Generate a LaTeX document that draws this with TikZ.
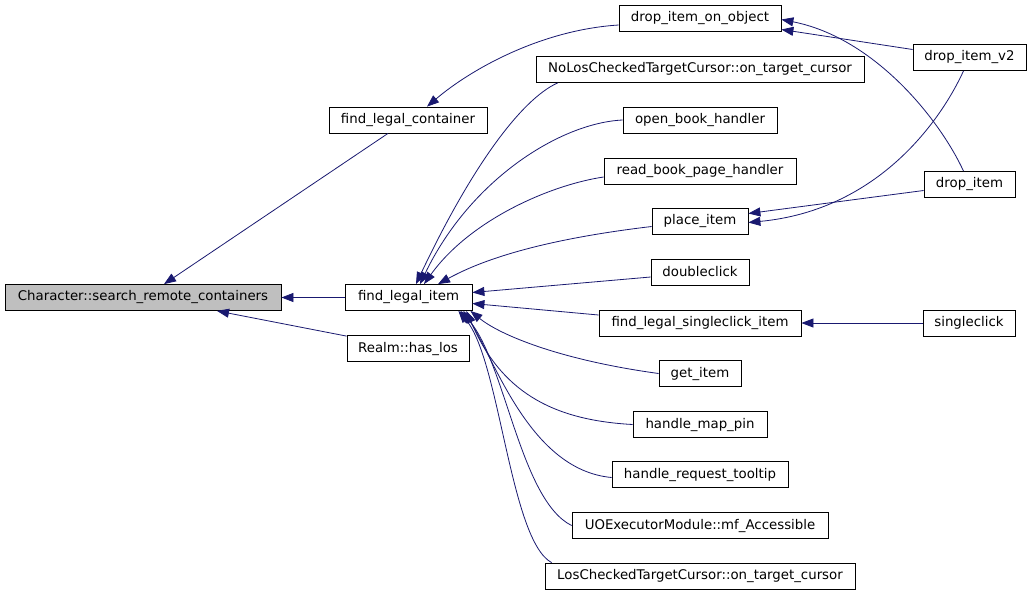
\documentclass[tikz,border=0pt]{standalone}
\usepackage{fontspec}
\setmainfont{DejaVu Sans}
\usetikzlibrary{arrows.meta,calc}
\definecolor{edgecol}{RGB}{25,25,112}
\definecolor{focusfill}{RGB}{191,191,191}
\begin{document}
\begin{tikzpicture}[x=1pt,y=-1pt,
  box/.style={draw=black, line width=0.8pt, minimum height=26pt, inner sep=0pt,
    font=\fontsize{13.33}{16}\selectfont, anchor=center},
  edge/.style={draw=edgecol, line width=0.8pt, -{Triangle[length=12pt,width=9pt]}}]
\useasboundingbox[fill=white] (0,0) rectangle (1032,595);

\node[box, minimum width=276pt, fill=focusfill] (char) at (143,297.5) {Character::search\_remote\_containers};
\node[box, minimum width=158pt] (flc) at (408,120) {find\_legal\_container};
\node[box, minimum width=127pt] (fli) at (408.5,297.5) {find\_legal\_item};
\node[box, minimum width=122pt] (realm) at (408,348.5) {Realm::has\_los};

\node[box, minimum width=162pt] (dioo) at (700,18.5) {drop\_item\_on\_object};
\node[box, minimum width=328pt] (nolos) at (700,69.5) {NoLosCheckedTargetCursor::on\_target\_cursor};
\node[box, minimum width=154pt] (obh) at (700,120) {open\_book\_handler};
\node[box, minimum width=192pt] (rbph) at (700,171) {read\_book\_page\_handler};
\node[box, minimum width=96pt] (pi) at (700,221.5) {place\_item};
\node[box, minimum width=98pt] (dc) at (700,272) {doubleclick};
\node[box, minimum width=202pt] (flsi) at (700,323) {find\_legal\_singleclick\_item};
\node[box, minimum width=82pt] (gi) at (700,373.5) {get\_item};
\node[box, minimum width=134pt] (hmp) at (700,424.5) {handle\_map\_pin};
\node[box, minimum width=176pt] (hrt) at (700,474.5) {handle\_request\_tooltip};
\node[box, minimum width=256pt] (uoe) at (700,525.5) {UOExecutorModule::mf\_Accessible};
\node[box, minimum width=310pt] (lct) at (700,576) {LosCheckedTargetCursor::on\_target\_cursor};

\node[box, minimum width=113pt] (div2) at (969.5,57.5) {drop\_item\_v2};
\node[box, minimum width=91pt] (di) at (969.5,184.5) {drop\_item};
\node[box, minimum width=92pt] (sc) at (969,323) {singleclick};

% edges into Character::search_remote_containers
\draw[edge] ($(flc.south)+(-20,0)$) -- ($(char.north)+(21,0)$);
\draw[edge] (fli.west) -- (char.east);
\draw[edge] ($(realm.north west)+(0,1)$) -- ($(char.south)+(74,0)$);

% into find_legal_container
\draw[edge] ($(dioo.west)+(0,6.5)$) .. controls (540,30) and (470,70) .. ($(flc.north)+(19,0)$);

% into find_legal_item
\draw[edge] ($(nolos.south west)+(22,0)$) .. controls (520,100) and (470,170) .. ($(fli.north)+(7.5,0)$);
\draw[edge] (obh.west) .. controls (560,123) and (470,180) .. ($(fli.north)+(11.5,0)$);
\draw[edge] ($(rbph.west)+(0,6)$) .. controls (550,185) and (470,220) .. ($(fli.north)+(15.5,0)$);
\draw[edge] ($(pi.west)+(0,5)$) .. controls (580,235) and (500,250) .. ($(fli.north)+(29.5,0)$);
\draw[edge] ($(dc.west)+(0,5)$) -- ($(fli.east)+(0,-5)$);
\draw[edge] ($(flsi.west)+(0,-8)$) -- ($(fli.east)+(0,6)$);
\draw[edge] (gi.west) .. controls (560,360) and (500,335) .. ($(fli.south east)+(-2,0)$);
\draw[edge] (hmp.west) .. controls (550,420) and (500,390) .. ($(fli.south east)+(-6,0)$);
\draw[edge] ($(hrt.west)+(0,3)$) .. controls (530,470) and (495,360) .. ($(fli.south east)+(-9,0)$);
\draw[edge] (uoe.west) .. controls (520,500) and (505,360) .. ($(fli.south east)+(-12,0)$);
\draw[edge] ($(lct.north west)+(7,0)$) .. controls (510,540) and (500,360) .. ($(fli.south east)+(-14,0)$);

% into drop_item_on_object
\draw[edge] ($(div2.west)+(0,-8)$) -- ($(dioo.east)+(0,11)$);
\draw[edge] ($(di.north)+(-6,0)$) .. controls (940,120) and (875,38) .. ($(dioo.east)+(0,1)$);

% into place_item
\draw[edge] ($(div2.south)+(-6,0)$) .. controls (942,118) and (880,210) .. ($(pi.east)+(0,1)$);
\draw[edge] ($(di.west)+(0,6)$) -- ($(pi.east)+(0,-8)$);

% into find_legal_singleclick_item
\draw[edge] (sc.west) -- (flsi.east);
\end{tikzpicture}
\end{document}
